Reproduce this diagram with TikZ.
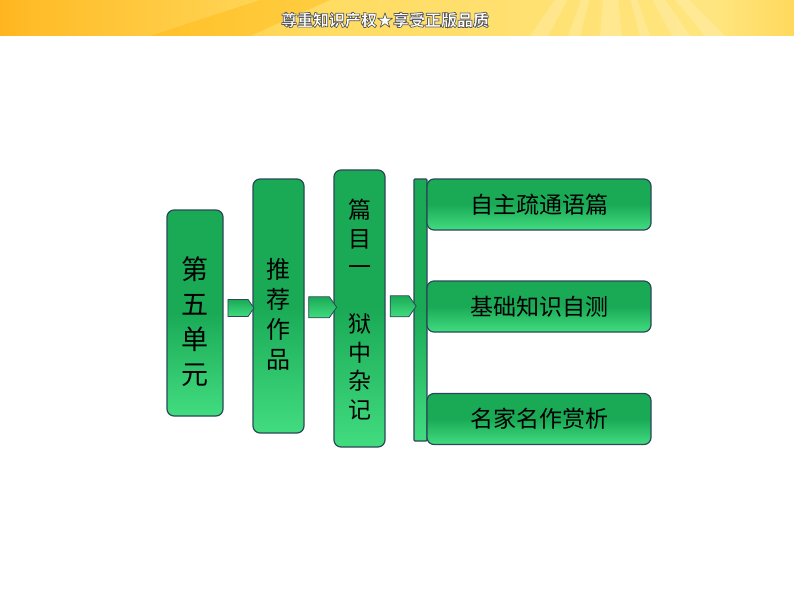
\documentclass[tikz,border=0pt]{standalone}
\usepackage{fontspec}
\newfontfamily\cjk{Noto Sans CJK SC}
\usetikzlibrary{shapes.arrows,calc}
\definecolor{boxgreen}{RGB}{26,170,86}
\definecolor{boxlight}{RGB}{66,220,128}
\definecolor{boxedge}{RGB}{42,72,88}
\pgfdeclarehorizontalshading{banner}{100bp}{%
  rgb(0bp)=(1,0.60,0); rgb(20bp)=(1,0.63,0.02); rgb(27bp)=(1,0.74,0.16);
  rgb(45bp)=(1,0.86,0.38); rgb(70bp)=(1,0.90,0.50); rgb(80bp)=(1,0.80,0.22);
  rgb(100bp)=(1,0.76,0.16)}
\tikzset{
  greenbox/.style={draw=boxedge,line width=1.2pt,rounded corners=7pt,
    top color=boxgreen,bottom color=boxlight,middle color=boxgreen,
    inner sep=0pt,font=\cjk},
  linkarrow/.style={single arrow,single arrow head extend=0pt,
    single arrow tip angle=110,draw=boxedge,line width=0.8pt,
    top color=boxgreen,bottom color=boxlight,inner sep=0pt}
}
\begin{document}
\begin{tikzpicture}[x=1pt,y=-1pt]
  \useasboundingbox (0,0) rectangle (794,596);
  % banner
  \fill[shading=banner] (0,0) rectangle (794,36);
  \fill[orange!60!yellow,opacity=0.35] (150,36) -- (260,0) -- (330,0) -- (250,36) -- cycle;
  \foreach \a/\b in {530/548,568/580,600/622,640/650,672/690,705/725} {
    \fill[white,opacity=0.18] (610,-80) -- (\a,36) -- (\b,36) -- cycle;
  }
  \node[text=white,font=\cjk\bfseries\fontsize{16}{16}\selectfont] (title) at (385,20)
    {\special{pdf:literal direct 2 Tr 0.7 w 0.35 0.35 0.35 RG}尊重知识产权★享受正版品质\special{pdf:literal direct 0 Tr}};
  % left column
  \node[greenbox,minimum width=56pt,minimum height=206pt,
    label={[align=center,yshift=-9pt,font=\cjk\fontsize{27}{35}\selectfont]center:第\\五\\单\\元}] (unit) at (195,313) {};
  \node[greenbox,minimum width=51pt,minimum height=254pt,
    label={[align=center,yshift=-8pt,font=\cjk\fontsize{24}{30}\selectfont]center:推\\荐\\作\\品}] (works) at (278.5,306) {};
  \node[greenbox,minimum width=51pt,minimum height=277pt,
    label={[align=center,yshift=-1pt,font=\cjk\fontsize{23}{28.5}\selectfont]center:篇\\目\\一\\ \\狱\\中\\杂\\记}] (title3) at (359.5,308.5) {};
  % bracket
  \node[greenbox,rounded corners=1pt,minimum width=13pt,minimum height=262pt] (bar) at (420.5,310) {};
  % right boxes
  \pgfmathsetmacro\rx{539}
  \foreach \name/\y/\txt in {read/204.5/自主疏通语篇,test/306.5/基础知识自测,famous/419/名家名作赏析} {
    \node[greenbox,minimum width=224pt,minimum height=51pt,
      font=\cjk\fontsize{23}{23}\selectfont] (\name) at (\rx,\y) {\raisebox{-3pt}{\txt}};
  }
  % arrows
  \node[linkarrow,minimum height=26pt,minimum width=17pt] (a1) at ($(unit.east)!0.5!(works.west)+(0,-1.5)$) {};
  \node[linkarrow,minimum height=28pt,minimum width=21pt] (a2) at ($(works.east)!0.5!(title3.west)$) {};
  \node[linkarrow,minimum height=26pt,minimum width=21pt] (a3) at ($(title3.east)!0.5!(bar.west)+(0,-3)$) {};
\end{tikzpicture}
\end{document}
